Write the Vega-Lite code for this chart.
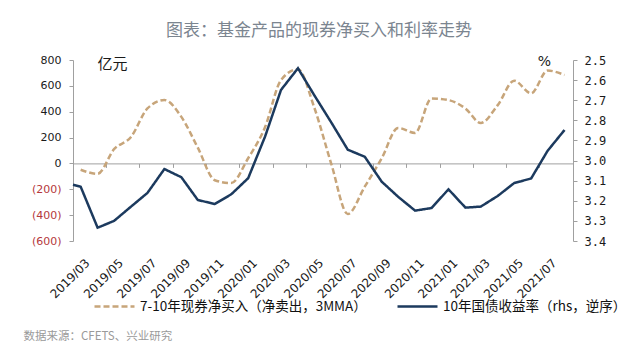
{
  "$schema": "https://vega.github.io/schema/vega-lite/v6.json",
  "autosize": {"type": "none"},
  "width": 500,
  "height": 181,
  "padding": {"left": 73, "top": 60, "right": 67, "bottom": 112},
  "background": "white",
  "title": {
    "text": "图表：基金产品的现券净买入和利率走势",
    "font": "Noto Sans CJK SC",
    "fontSize": 17,
    "fontWeight": "normal",
    "color": "#7b8590",
    "anchor": "middle",
    "dx": -4,
    "offset": 14
  },
  "config": {
    "view": {"stroke": null},
    "axis": {"grid": false},
    "legend": {
      "symbolType": "stroke",
      "symbolSize": 1600,
      "symbolStrokeWidth": 2.5,
      "labelFont": "Noto Sans CJK SC",
      "labelFontSize": 13.5,
      "labelColor": "#111111",
      "columnPadding": 25,
      "labelOffset": 4,
      "labelLimit": 400
    }
  },
  "data": {
    "values": [
      {"month": "2019-03-01", "series": "7-10年现券净买入（净卖出，3MMA）", "value": -49},
      {"month": "2019-04-01", "series": "7-10年现券净买入（净卖出，3MMA）", "value": -80},
      {"month": "2019-05-01", "series": "7-10年现券净买入（净卖出，3MMA）", "value": 110},
      {"month": "2019-06-01", "series": "7-10年现券净买入（净卖出，3MMA）", "value": 205},
      {"month": "2019-07-01", "series": "7-10年现券净买入（净卖出，3MMA）", "value": 425},
      {"month": "2019-08-01", "series": "7-10年现券净买入（净卖出，3MMA）", "value": 490},
      {"month": "2019-09-01", "series": "7-10年现券净买入（净卖出，3MMA）", "value": 360},
      {"month": "2019-10-01", "series": "7-10年现券净买入（净卖出，3MMA）", "value": 122},
      {"month": "2019-11-01", "series": "7-10年现券净买入（净卖出，3MMA）", "value": -130},
      {"month": "2019-12-01", "series": "7-10年现券净买入（净卖出，3MMA）", "value": -152},
      {"month": "2020-01-01", "series": "7-10年现券净买入（净卖出，3MMA）", "value": 40},
      {"month": "2020-02-01", "series": "7-10年现券净买入（净卖出，3MMA）", "value": 282},
      {"month": "2020-03-01", "series": "7-10年现券净买入（净卖出，3MMA）", "value": 645},
      {"month": "2020-04-01", "series": "7-10年现券净买入（净卖出，3MMA）", "value": 729},
      {"month": "2020-05-01", "series": "7-10年现券净买入（净卖出，3MMA）", "value": 430},
      {"month": "2020-06-01", "series": "7-10年现券净买入（净卖出，3MMA）", "value": -5},
      {"month": "2020-07-01", "series": "7-10年现券净买入（净卖出，3MMA）", "value": -391},
      {"month": "2020-08-01", "series": "7-10年现券净买入（净卖出，3MMA）", "value": -180},
      {"month": "2020-09-01", "series": "7-10年现券净买入（净卖出，3MMA）", "value": 40},
      {"month": "2020-10-01", "series": "7-10年现券净买入（净卖出，3MMA）", "value": 275},
      {"month": "2020-11-01", "series": "7-10年现券净买入（净卖出，3MMA）", "value": 236},
      {"month": "2020-12-01", "series": "7-10年现券净买入（净卖出，3MMA）", "value": 503},
      {"month": "2021-01-01", "series": "7-10年现券净买入（净卖出，3MMA）", "value": 490},
      {"month": "2021-02-01", "series": "7-10年现券净买入（净卖出，3MMA）", "value": 425},
      {"month": "2021-03-01", "series": "7-10年现券净买入（净卖出，3MMA）", "value": 313},
      {"month": "2021-04-01", "series": "7-10年现券净买入（净卖出，3MMA）", "value": 451},
      {"month": "2021-05-01", "series": "7-10年现券净买入（净卖出，3MMA）", "value": 640},
      {"month": "2021-06-01", "series": "7-10年现券净买入（净卖出，3MMA）", "value": 542},
      {"month": "2021-07-01", "series": "7-10年现券净买入（净卖出，3MMA）", "value": 718},
      {"month": "2021-08-01", "series": "7-10年现券净买入（净卖出，3MMA）", "value": 684},
      {"month": "2019-02-15", "series": "10年国债收益率（rhs，逆序）", "value": 3.12},
      {"month": "2019-03-01", "series": "10年国债收益率（rhs，逆序）", "value": 3.13},
      {"month": "2019-04-01", "series": "10年国债收益率（rhs，逆序）", "value": 3.334},
      {"month": "2019-05-01", "series": "10年国债收益率（rhs，逆序）", "value": 3.30},
      {"month": "2019-06-01", "series": "10年国债收益率（rhs，逆序）", "value": 3.229},
      {"month": "2019-07-01", "series": "10年国债收益率（rhs，逆序）", "value": 3.161},
      {"month": "2019-08-01", "series": "10年国债收益率（rhs，逆序）", "value": 3.042},
      {"month": "2019-09-01", "series": "10年国债收益率（rhs，逆序）", "value": 3.083},
      {"month": "2019-10-01", "series": "10年国债收益率（rhs，逆序）", "value": 3.196},
      {"month": "2019-11-01", "series": "10年国债收益率（rhs，逆序）", "value": 3.216},
      {"month": "2019-12-01", "series": "10年国债收益率（rhs，逆序）", "value": 3.168},
      {"month": "2020-01-01", "series": "10年国债收益率（rhs，逆序）", "value": 3.088},
      {"month": "2020-02-01", "series": "10年国债收益率（rhs，逆序）", "value": 2.88},
      {"month": "2020-03-01", "series": "10年国债收益率（rhs，逆序）", "value": 2.649},
      {"month": "2020-04-01", "series": "10年国债收益率（rhs，逆序）", "value": 2.541},
      {"month": "2020-05-01", "series": "10年国债收益率（rhs，逆序）", "value": 2.676},
      {"month": "2020-06-01", "series": "10年国债收益率（rhs，逆序）", "value": 2.811},
      {"month": "2020-07-01", "series": "10年国债收益率（rhs，逆序）", "value": 2.946},
      {"month": "2020-08-01", "series": "10年国债收益率（rhs，逆序）", "value": 2.981},
      {"month": "2020-09-01", "series": "10年国债收益率（rhs，逆序）", "value": 3.105},
      {"month": "2020-10-01", "series": "10年国债收益率（rhs，逆序）", "value": 3.18},
      {"month": "2020-11-01", "series": "10年国债收益率（rhs，逆序）", "value": 3.249},
      {"month": "2020-12-01", "series": "10年国债收益率（rhs，逆序）", "value": 3.236},
      {"month": "2021-01-01", "series": "10年国债收益率（rhs，逆序）", "value": 3.143},
      {"month": "2021-02-01", "series": "10年国债收益率（rhs，逆序）", "value": 3.234},
      {"month": "2021-03-01", "series": "10年国债收益率（rhs，逆序）", "value": 3.229},
      {"month": "2021-04-01", "series": "10年国债收益率（rhs，逆序）", "value": 3.176},
      {"month": "2021-05-01", "series": "10年国债收益率（rhs，逆序）", "value": 3.112},
      {"month": "2021-06-01", "series": "10年国债收益率（rhs，逆序）", "value": 3.089},
      {"month": "2021-07-01", "series": "10年国债收益率（rhs，逆序）", "value": 2.952},
      {"month": "2021-08-01", "series": "10年国债收益率（rhs，逆序）", "value": 2.848}
    ]
  },
  "layer": [
    {
      "transform": [{"filter": {"field": "series", "equal": "7-10年现券净买入（净卖出，3MMA）"}}],
      "mark": {"type": "line", "strokeWidth": 2.5, "interpolate": "monotone"},
      "encoding": {
        "x": {
          "field": "month",
          "type": "temporal",
          "scale": {
            "type": "utc",
            "domain": [
              {"year": 2019, "month": 2, "date": 15, "utc": true},
              {"year": 2021, "month": 8, "date": 16, "hours": 12, "utc": true}
            ]
          },
          "axis": {
            "orient": "bottom",
            "values": [
              {"year": 2019, "month": 3, "date": 1, "utc": true},
              {"year": 2019, "month": 5, "date": 1, "utc": true},
              {"year": 2019, "month": 7, "date": 1, "utc": true},
              {"year": 2019, "month": 9, "date": 1, "utc": true},
              {"year": 2019, "month": 11, "date": 1, "utc": true},
              {"year": 2020, "month": 1, "date": 1, "utc": true},
              {"year": 2020, "month": 3, "date": 1, "utc": true},
              {"year": 2020, "month": 5, "date": 1, "utc": true},
              {"year": 2020, "month": 7, "date": 1, "utc": true},
              {"year": 2020, "month": 9, "date": 1, "utc": true},
              {"year": 2020, "month": 11, "date": 1, "utc": true},
              {"year": 2021, "month": 1, "date": 1, "utc": true},
              {"year": 2021, "month": 3, "date": 1, "utc": true},
              {"year": 2021, "month": 5, "date": 1, "utc": true},
              {"year": 2021, "month": 7, "date": 1, "utc": true}
            ],
            "labelExpr": "utcFormat(datum.value, '%Y/%m')",
            "labelAngle": -45,
            "labelAlign": "right",
            "labelBaseline": "top",
            "labelPadding": 16,
            "labelOffset": 3,
            "labelFont": "DejaVu Sans",
            "labelFontSize": 12,
            "labelColor": "#1a1a1a",
            "labelFlush": false,
            "labelOverlap": false,
            "domain": false,
            "ticks": false,
            "title": "数据来源：CFETS、兴业研究",
            "titleX": -50,
            "titleY": 95,
            "titleAlign": "left",
            "titleBaseline": "middle",
            "titleFont": "Noto Sans CJK SC",
            "titleFontSize": 11.5,
            "titleFontWeight": "normal",
            "titleColor": "#9a9a9a"
          }
        },
        "y": {
          "field": "value",
          "type": "quantitative",
          "scale": {"domain": [-600, 800], "nice": false, "zero": false},
          "axis": {
            "orient": "left",
            "values": [-600, -400, -200, 0, 200, 400, 600, 800],
            "labelExpr": "datum.value < 0 ? '(' + format(-datum.value, 'd') + ')' : format(datum.value, 'd')",
            "labelColor": {"condition": {"test": "datum.value < 0", "value": "#b5383c"}, "value": "#1a1a1a"},
            "labelFont": "DejaVu Sans",
            "labelFontSize": 11,
            "labelPadding": 8,
            "tickSize": 4,
            "tickColor": "#a0a0a0",
            "domainColor": "#a0a0a0",
            "title": "亿元",
            "titleAngle": 0,
            "titleX": 24,
            "titleY": 3,
            "titleAlign": "left",
            "titleBaseline": "middle",
            "titleFont": "Noto Sans CJK SC",
            "titleFontSize": 15,
            "titleFontWeight": "normal",
            "titleColor": "#1a1a1a"
          }
        },
        "color": {
          "field": "series",
          "type": "nominal",
          "scale": {
            "domain": ["7-10年现券净买入（净卖出，3MMA）", "10年国债收益率（rhs，逆序）"],
            "range": ["#c7a57a", "#1c3a5e"]
          },
          "legend": {"title": null, "orient": "none", "legendX": 20, "legendY": 225, "direction": "horizontal"}
        },
        "strokeDash": {
          "field": "series",
          "type": "nominal",
          "scale": {
            "domain": ["7-10年现券净买入（净卖出，3MMA）", "10年国债收益率（rhs，逆序）"],
            "range": [[6, 3], [1, 0]]
          },
          "legend": {"title": null, "orient": "none", "legendX": 20, "legendY": 225, "direction": "horizontal"}
        }
      }
    },
    {
      "transform": [{"filter": {"field": "series", "equal": "10年国债收益率（rhs，逆序）"}}],
      "mark": {"type": "line", "strokeWidth": 2.5},
      "encoding": {
        "x": {
          "field": "month",
          "type": "temporal",
          "axis": {
            "orient": "bottom",
            "offset": -77.6,
            "values": [
              {"year": 2019, "month": 2, "date": 15, "utc": true},
              {"year": 2019, "month": 4, "date": 16, "utc": true},
              {"year": 2019, "month": 6, "date": 16, "utc": true},
              {"year": 2019, "month": 8, "date": 16, "utc": true},
              {"year": 2019, "month": 10, "date": 16, "utc": true},
              {"year": 2019, "month": 12, "date": 16, "utc": true},
              {"year": 2020, "month": 2, "date": 15, "utc": true},
              {"year": 2020, "month": 4, "date": 16, "utc": true},
              {"year": 2020, "month": 6, "date": 16, "utc": true},
              {"year": 2020, "month": 8, "date": 16, "utc": true},
              {"year": 2020, "month": 10, "date": 16, "utc": true},
              {"year": 2020, "month": 12, "date": 16, "utc": true},
              {"year": 2021, "month": 2, "date": 15, "utc": true},
              {"year": 2021, "month": 4, "date": 16, "utc": true},
              {"year": 2021, "month": 6, "date": 16, "utc": true},
              {"year": 2021, "month": 8, "date": 16, "hours": 12, "utc": true}
            ],
            "labels": false,
            "tickSize": 4,
            "tickColor": "#a0a0a0",
            "domainColor": "#a0a0a0",
            "title": null
          }
        },
        "y": {
          "field": "value",
          "type": "quantitative",
          "scale": {"domain": [2.5, 3.4], "reverse": true, "nice": false, "zero": false},
          "axis": {
            "orient": "right",
            "values": [2.5, 2.6, 2.7, 2.8, 2.9, 3.0, 3.1, 3.2, 3.3, 3.4],
            "format": ".1f",
            "labelFont": "DejaVu Sans Mono",
            "labelFontSize": 12,
            "labelColor": "#1a1a1a",
            "labelPadding": 7,
            "tickSize": 4,
            "tickColor": "#a0a0a0",
            "domainColor": "#a0a0a0",
            "title": "%",
            "titleAngle": 0,
            "titleX": -29,
            "titleY": 1,
            "titleAlign": "center",
            "titleBaseline": "middle",
            "titleFont": "DejaVu Sans",
            "titleFontSize": 14,
            "titleFontWeight": "normal",
            "titleColor": "#1a1a1a"
          }
        },
        "color": {"field": "series", "type": "nominal"},
        "strokeDash": {"field": "series", "type": "nominal"}
      }
    }
  ],
  "resolve": {
    "scale": {"y": "independent"},
    "axis": {"x": "independent", "y": "independent"}
  }
}
